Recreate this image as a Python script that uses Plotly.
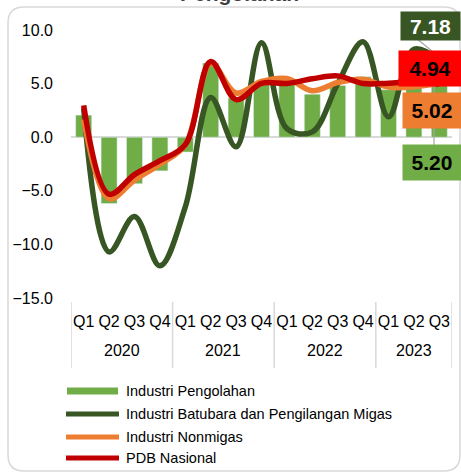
import plotly.graph_objects as go

# ---- data ----
years = ["2020"] * 4 + ["2021"] * 4 + ["2022"] * 4 + ["2023"] * 3
quarters = ["Q1", "Q2", "Q3", "Q4"] * 3 + ["Q1", "Q2", "Q3"]
year_labels = ["2020", "2021", "2022", "2023"]

industri_pengolahan = [2.06, -6.19, -4.34, -3.14, -1.38, 6.91, 3.68, 4.92,
                       5.07, 4.01, 4.83, 5.64, 4.43, 4.88, 5.20]
batubara_migas = [2.7, -10.7, -7.4, -12.0, -6.5, 3.7, -0.9, 8.8,
                  0.8, 0.5, 5.0, 8.9, 1.9, 8.2, 7.18]
industri_nonmigas = [1.67, -5.74, -4.02, -2.52, -0.71, 6.91, 4.12, 5.20,
                     5.47, 4.33, 5.10, 5.40, 4.67, 4.70, 5.02]
pdb_nasional = [2.97, -5.32, -3.49, -2.19, -0.70, 7.07, 3.51, 5.02,
                5.02, 5.45, 5.72, 5.01, 5.04, 5.17, 4.94]

series_names = ["Industri Pengolahan", "Industri Batubara dan Pengilangan Migas",
                "Industri Nonmigas", "PDB Nasional"]
last_labels = ["7.18", "4.94", "5.02", "5.20"]

C_BAR = "#70AD47"
C_DARK = "#375623"
C_ORANGE = "#ED7D31"
C_RED = "#C00000"
FONT = "Liberation Sans, Arial, sans-serif"

W, H = 461, 473
PX0, PX1, PY0, PY1 = 71, 452, 30, 298


def px(x):
    return (x - PX0) / (PX1 - PX0)


def py(y):
    return (PY1 - y) / (PY1 - PY0)


# unique category keys (year + quarter); ticks show only the quarter
xkeys = [f"{y} {q}" for y, q in zip(years, quarters)]

fig = go.Figure()
fig.add_trace(go.Bar(x=xkeys, y=industri_pengolahan, marker_color=C_BAR,
                     name=series_names[0]))
fig.add_trace(go.Scatter(x=xkeys, y=batubara_migas, mode="lines",
                         line=dict(color=C_DARK, width=5.5, shape="spline", smoothing=1),
                         name=series_names[1]))
fig.add_trace(go.Scatter(x=xkeys, y=industri_nonmigas, mode="lines",
                         line=dict(color=C_ORANGE, width=5.5, shape="spline", smoothing=1),
                         name=series_names[2]))
fig.add_trace(go.Scatter(x=xkeys, y=pdb_nasional, mode="lines",
                         line=dict(color=C_RED, width=5.5, shape="spline", smoothing=1),
                         name=series_names[3]))

shapes = []
annotations = []

# year groups: dividers and labels placed on the category axis
group_starts = [i for i in range(len(years)) if i == 0 or years[i] != years[i - 1]]
group_bounds = group_starts + [len(years)]
for i, yl in enumerate(year_labels):
    a, bnd = group_bounds[i], group_bounds[i + 1]
    annotations.append(dict(xref="x", yref="paper", x=(a + bnd - 1) / 2, y=py(350),
                            xanchor="center", yanchor="middle", text=yl, showarrow=False,
                            font=dict(family=FONT, size=16, color="#000000")))
for gb in group_bounds:
    shapes.append(dict(type="line", xref="x", yref="paper", x0=gb - 0.5, x1=gb - 0.5,
                       y0=py(302), y1=py(368), line=dict(color="#D9D9D9", width=1.5)))

# rounded border
l, t, r, b, rad = 8, 7, 460, 471, 16
path = (f"M {px(l + rad)},{py(t)} L {px(r - rad)},{py(t)} Q {px(r)},{py(t)} {px(r)},{py(t + rad)} "
        f"L {px(r)},{py(b - rad)} Q {px(r)},{py(b)} {px(r - rad)},{py(b)} "
        f"L {px(l + rad)},{py(b)} Q {px(l)},{py(b)} {px(l)},{py(b - rad)} "
        f"L {px(l)},{py(t + rad)} Q {px(l)},{py(t)} {px(l + rad)},{py(t)} Z")
shapes.append(dict(type="path", xref="paper", yref="paper", path=path,
                   line=dict(color="#D9D9D9", width=1.5), layer="below"))
# leader lines
shapes.append(dict(type="line", xref="paper", yref="paper", x0=px(434), x1=px(434),
                   y0=py(145), y1=py(86), line=dict(color="#A6A6A6", width=1.2)))
shapes.append(dict(type="line", xref="paper", yref="paper", x0=px(416), x1=px(438),
                   y0=py(38), y1=py(56), line=dict(color="#A6A6A6", width=1.2)))

# custom legend
legend_rows = [391, 414, 437, 458]
shapes.append(dict(type="rect", xref="paper", yref="paper", x0=px(67), x1=px(118),
                   y0=py(394.5), y1=py(387.5), fillcolor=C_BAR, line=dict(width=0)))
for yy, col in zip(legend_rows[1:], [C_DARK, C_ORANGE, C_RED]):
    shapes.append(dict(type="line", xref="paper", yref="paper", x0=px(66), x1=px(119),
                       y0=py(yy), y1=py(yy), line=dict(color=col, width=5)))
for yy, name in zip(legend_rows, series_names):
    annotations.append(dict(xref="paper", yref="paper", x=px(124), y=py(yy),
                            xanchor="left", yanchor="middle", text=name, showarrow=False,
                            font=dict(family=FONT, size=14.5, color="#000000")))

# title fragment (cut off at top)
annotations.append(dict(xref="paper", yref="paper", x=px(239), y=py(7), xanchor="center",
                        yanchor="bottom", text="<b>Pengolahan</b>", showarrow=False,
                        font=dict(family=FONT, size=21, color="#404040")))

# end-value label boxes
boxes = [
    (last_labels[0], 401, 460, 12, 40, C_DARK, "#FFFFFF"),
    (last_labels[1], 399, 461, 51, 86, "#FF0000", "#000000"),
    (last_labels[2], 403, 461, 93, 128, C_ORANGE, "#000000"),
    (last_labels[3], 403, 461, 145, 180, C_BAR, "#000000"),
]
for txt, x0, x1, y0, y1, bg, fc in boxes:
    annotations.append(dict(xref="paper", yref="paper", x=px((x0 + x1) / 2), y=py((y0 + y1) / 2),
                            xanchor="center", yanchor="middle", text=f"<b>{txt}</b>",
                            showarrow=False, bgcolor=bg, width=x1 - x0, height=y1 - y0,
                            borderpad=0, font=dict(family=FONT, size=21, color=fc)))

fig.update_layout(
    width=W, height=H,
    margin=dict(l=PX0, r=W - PX1, t=PY0, b=H - PY1, pad=0),
    paper_bgcolor="#FFFFFF", plot_bgcolor="#FFFFFF",
    showlegend=False, bargap=0.37,
    font=dict(family=FONT, size=16, color="#000000"),
    shapes=shapes, annotations=annotations,
    xaxis=dict(type="category", showgrid=False, showline=False, zeroline=False,
               tickmode="array", tickvals=xkeys, ticktext=quarters,
               tickangle=0, ticks="", ticklabelstandoff=12,
               range=[-0.5, len(xkeys) - 0.5],
               tickfont=dict(family=FONT, size=16, color="#000000")),
    yaxis=dict(range=[-15, 10], dtick=5, tick0=0, tickformat=".1f", showgrid=False,
               zeroline=True, zerolinecolor="#D9D9D9", zerolinewidth=2, showline=False,
               ticks="", ticklabelstandoff=17,
               tickfont=dict(family=FONT, size=16, color="#000000")),
)

fig.write_html("out.html", config={"displayModeBar": False},
               post_script="document.body.style.margin='0';")
